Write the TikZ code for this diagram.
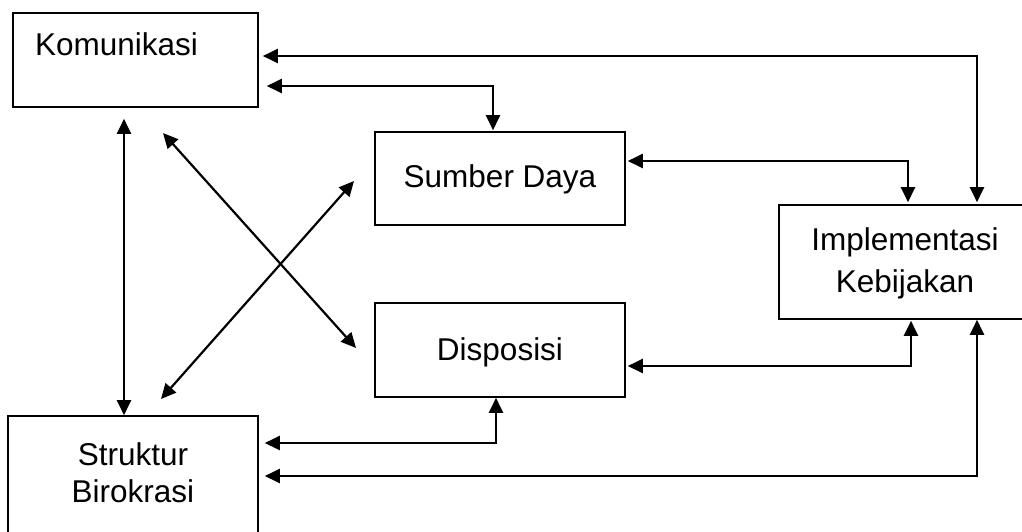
\documentclass[tikz,border=0pt]{standalone}
\usepackage{fontspec}
\setmainfont{Liberation Sans}
\usetikzlibrary{arrows.meta}
\begin{document}
\begin{tikzpicture}[x=1pt,y=-1pt,
  box/.style={draw,line width=1.6pt,rectangle,inner sep=0pt},
  lbl/.style={font=\fontsize{31.5}{37}\selectfont,inner sep=0pt,anchor=base},
  con/.style={line width=2.2pt,{Triangle[length=15pt,width=14pt]}-{Triangle[length=15pt,width=14pt]}}]
\useasboundingbox (0,0) rectangle (1022,531);
\fill[white] (0,0) rectangle (1022,531);
% boxes
\node[box,minimum width=245pt,minimum height=94pt] (kom) at (135.5,60) {};
\node[box,minimum width=250pt,minimum height=93pt] (sd) at (500,178.5) {};
\node[box,minimum width=250pt,minimum height=94pt] (dis) at (500,350) {};
\node[box,minimum width=252pt,minimum height=114pt] (impl) at (905,262) {};
\node[box,minimum width=250pt,minimum height=129pt] (sb) at (133,480.5) {};
% texts
\node[lbl,anchor=base west] (tkom) at (35,55) {Komunikasi};
\node[lbl] (tsd) at (500,187) {Sumber Daya};
\node[lbl] (tdis) at (500,360) {Disposisi};
\node[lbl] (timp1) at (905,250) {Implementasi};
\node[lbl] (timp2) at (905,292) {Kebijakan};
\node[lbl] (tsb1) at (133,465) {Struktur};
\node[lbl] (tsb2) at (133,502) {Birokrasi};
% helper coordinates
\coordinate (yA) at (0,56);
\coordinate (yB) at (0,86);
\coordinate (yC) at (0,161);
\coordinate (yD) at (0,366);
\coordinate (yE) at (0,443);
\coordinate (yF) at (0,476);
\coordinate (xA) at (977,0);
\coordinate (xB) at (493,0);
\coordinate (xC) at (908,0);
\coordinate (xD) at (911,0);
\coordinate (xE) at (496,0);
\coordinate (xV) at (124,0);
\coordinate (d1a) at (163,133);
\coordinate (d1b) at (356,348);
\coordinate (d2a) at (354,181);
\coordinate (d2b) at (161,399);
% connectors
\draw[con,shorten <=4pt,shorten >=2pt] (kom.east |- yA) -| (impl.north -| xA);
\draw[con,shorten <=8pt,shorten >=1pt] (kom.east |- yB) -| (sd.north -| xB);
\draw[con,shorten <=2pt,shorten >=2pt] (sd.east |- yC) -| (impl.north -| xC);
\draw[con,shorten <=2pt,shorten >=1pt] (dis.east |- yD) -| (impl.south -| xD);
\draw[con,shorten <=6pt] (sb.east |- yE) -| (dis.south -| xE);
\draw[con,shorten <=6pt] (sb.east |- yF) -| (impl.south -| xA);
\draw[con,shorten <=11pt] (kom.south -| xV) -- (sb.north -| xV);
\draw[con] (d1a) -- (d1b);
\draw[con] (d2a) -- (d2b);
\end{tikzpicture}
\end{document}
